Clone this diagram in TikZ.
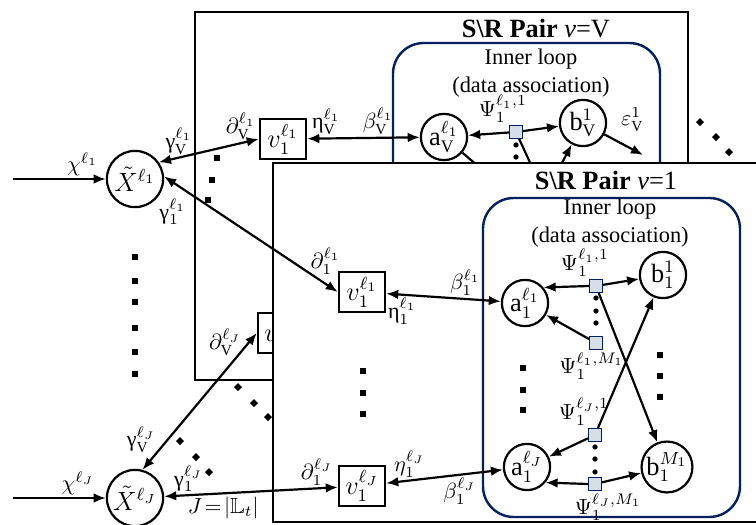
\documentclass[tikz,border=0pt]{standalone}
\usepackage{amssymb}
\usepackage{fontspec}
\setmainfont{Liberation Serif}
\setmathrm{Liberation Serif}
\usetikzlibrary{arrows.meta,positioning}
\definecolor{loopblue}{RGB}{0,32,96}
\definecolor{psifill}{RGB}{214,222,230}

\begin{document}
\begin{tikzpicture}[x=0.016cm,y=-0.016cm,
    >={Latex[length=5.5pt,width=4.4pt]},
    every edge/.style={draw,line width=1pt},
    pairbox/.style={draw,line width=1.3pt,fill=white},
    loopbox/.style={draw=loopblue,line width=1.1pt,rounded corners=14pt},
    pairtitle/.style={font=\large},
    looptext/.style={align=center,font=\fontsize{10.2}{12.4}\selectfont},
    xnode/.style={circle,draw,line width=1pt,minimum size=0.9cm,inner sep=0pt,font=\large},
    anode/.style={circle,draw,line width=1pt,minimum size=0.74cm,inner sep=0pt,font=\large},
    vnode/.style={rectangle,draw,line width=1pt,fill=white,minimum width=0.74cm,minimum height=0.63cm,inner sep=1pt,font=\large},
    psinode/.style={rectangle,draw=loopblue,fill=psifill,minimum size=0.21cm,inner sep=0pt},
    lbl/.style={inner sep=1pt}]
      \clip (0,0) rectangle (756,525);

      % pair v=V, behind
      \draw[pairbox] (195,12) rectangle (688,380);
      \node[pairtitle] (ttlV) at (536,29) {\textbf{S\textbackslash R Pair} \textit{ν}=V};
      \draw[loopbox] (393,43) rectangle (660,320);
      \node[looptext] (loopV) at (531,73) {Inner loop\\(data association)};
      \begin{scope}
        \node[vnode] (vv1) at (283,139) {$v_1^{\ell_1}$};
        \node[vnode] (vvJ) at (281,333) {$v_1^{\ell_J}$};
        \node[anode] (aV) at (444,137) {a$_{\mathrm{V}}^{\ell_1}$};
        \node[psinode,label={[lbl,xshift=-6pt]above:{$\Psi_1^{\ell_1,1}$}}] (pV) at (516,132) {};
        \node[anode] (bV) at (583,123) {b$_{\mathrm{V}}^{1}$};
        \coordinate (epsV) at (643,155);
        \coordinate (cutA) at (538,180);
        \coordinate (cutB) at (553,180);
        \coordinate (cutC) at (485,172);
      \end{scope}
      \path (vv1) edge[<->] node[lbl,pos=.17,above] {η$_{\mathrm{V}}^{\ell_1}$}
        node[lbl,pos=.63,above] {$\beta_{\mathrm{V}}^{\ell_1}$} (aV);
      \path (pV) edge[->] (aV);
      \path (pV) edge[->] (bV);
      \path (bV) edge[->] node[lbl,pos=.35,above right,yshift=3pt] {$\varepsilon_{\mathrm{V}}^{1}$} (epsV);
      \path (pV) edge (cutA);
      \path (cutB) edge[->] (bV);
      \path (aV) edge (cutC);
      \foreach \y in {145,157} \fill (516,\y) circle (1.2pt);

      % pair v=1, in front
      \draw[pairbox] (273,163) rectangle (790,522);
      \node[pairtitle] (ttl1) at (606,180) {\textbf{S\textbackslash R Pair} \textit{ν}=1};
      \draw[loopbox] (483,198) rectangle (740,517);
      \node[looptext] (loop1) at (610,223) {Inner loop\\(data association)};
      \begin{scope}
        \node[vnode] (v11) at (362,292) {$v_1^{\ell_1}$};
        \node[vnode] (v1J) at (362,486) {$v_1^{\ell_J}$};
        \node[anode] (a11) at (525,303) {a$_1^{\ell_1}$};
        \node[anode] (a1J) at (527,467) {a$_1^{\ell_J}$};
        \node[psinode,label={[lbl,xshift=-5pt]above:{$\Psi_1^{\ell_1,1}$}}] (p11) at (596,286) {};
        \node[psinode,label={[lbl,xshift=-2pt]below:{$\Psi_1^{\ell_1,M_1}$}}] (p1M) at (596,343) {};
        \node[psinode,label={[lbl,xshift=-5pt]above:{$\Psi_1^{\ell_J,1}$}}] (pJ1) at (595,435) {};
        \node[psinode,label={[lbl,xshift=6pt]below:{$\Psi_1^{\ell_J,M_1}$}}] (pJM) at (595,484) {};
        \node[anode] (b11) at (663,275) {b$_1^{1}$};
        \node[anode] (b1M) at (667,467) {b$_1^{M_1}$};
      \end{scope}
      \path (v11) edge[<->] node[lbl,pos=.14,below] {η$_1^{\ell_1}$}
        node[lbl,pos=.69,above] {$\beta_1^{\ell_1}$} (a11);
      \path (v1J) edge[<->] node[lbl,pos=.2,above] {$\eta_1^{\ell_J}$}
        node[lbl,pos=.63,below] {$\beta_1^{\ell_J}$} (a1J);
      \path (p11.west) edge[->] (a11.40);
      \path (p11) edge[->] (b11);
      \path (p1M) edge[->] (a11);
      \path (p11) edge[->] (b1M);
      \path (pJ1) edge[->] (b11);
      \path (pJ1) edge[->] (a1J);
      \path (pJM.west) edge[->] (a1J.-40);
      \path (pJM) edge[->] (b1M);
      \foreach \y in {298,311,323} \fill (596,\y) circle (1.2pt);
      \foreach \y in {447,459,472} \fill (595,\y) circle (1.2pt);

      % target nodes
      \node[xnode] (xt1) at (135,179) {$\tilde{X}^{\ell_1}$};
      \node[xnode] (xtJ) at (135,498) {$\tilde{X}^{\ell_J}$};
      \coordinate (in1) at (13,179);
      \coordinate (inJ) at (13,498);
      \path (in1) edge[->] node[lbl,pos=.75,above] {$\chi^{\ell_1}$} (xt1);
      \path (inJ) edge[->] node[lbl,pos=.7,above] {$\chi^{\ell_J}$} (xtJ);
      \path (xt1.35) edge[<->] node[lbl,pos=.2,above] {γ$_{\mathrm{V}}^{\ell_1}$}
        node[lbl,pos=.82,above] {$\partial_{\mathrm{V}}^{\ell_1}$} (vv1.west);
      \path (xt1.5) edge[<->] node[lbl,pos=.05,below,yshift=-6pt] {γ$_1^{\ell_1}$}
        node[lbl,pos=.93,above,yshift=3pt] {$\partial_1^{\ell_1}$} (v11.west);
      \path (xtJ.75) edge[<->] node[lbl,pos=.22,left=4pt] {γ$_{\mathrm{V}}^{\ell_J}$}
        node[lbl,pos=.93,left=2pt] {$\partial_{\mathrm{V}}^{\ell_J}$} (vvJ.west);
      \path (xtJ) edge[<->] node[lbl,pos=.14,above] {γ$_1^{\ell_J}$}
        node[lbl,pos=.34,below] {$J\!=\!|\mathbb{L}_t|$}
        node[lbl,pos=.88,above] {$\partial_1^{\ell_J}$} (v1J);

      % dots
      \foreach \y in {257,281,302,328,352,374} \fill (135,\y) +(-3,-3) rectangle +(3,3);
      \foreach \x/\y in {217/158,212/180,208/200} \fill (\x,\y) +(-3,-3) rectangle +(3,3);
      \foreach \y in {371,393,414} \fill (363,\y) +(-3,-3) rectangle +(3,3);
      \foreach \y in {368,390,410} \fill (523,\y) +(-3,-3) rectangle +(3,3);
      \foreach \y in {355,376,397} \fill (660,\y) +(-3,-3) rectangle +(3,3);
      \foreach \x/\y in {700/122,716/137,729/152,238/387,254/403,268/417,180/441,196/457,209/472}
        \fill (\x,\y) +(0,-4) -- +(4,0) -- +(0,4) -- +(-4,0) -- cycle;
    \end{tikzpicture}
\end{document}
